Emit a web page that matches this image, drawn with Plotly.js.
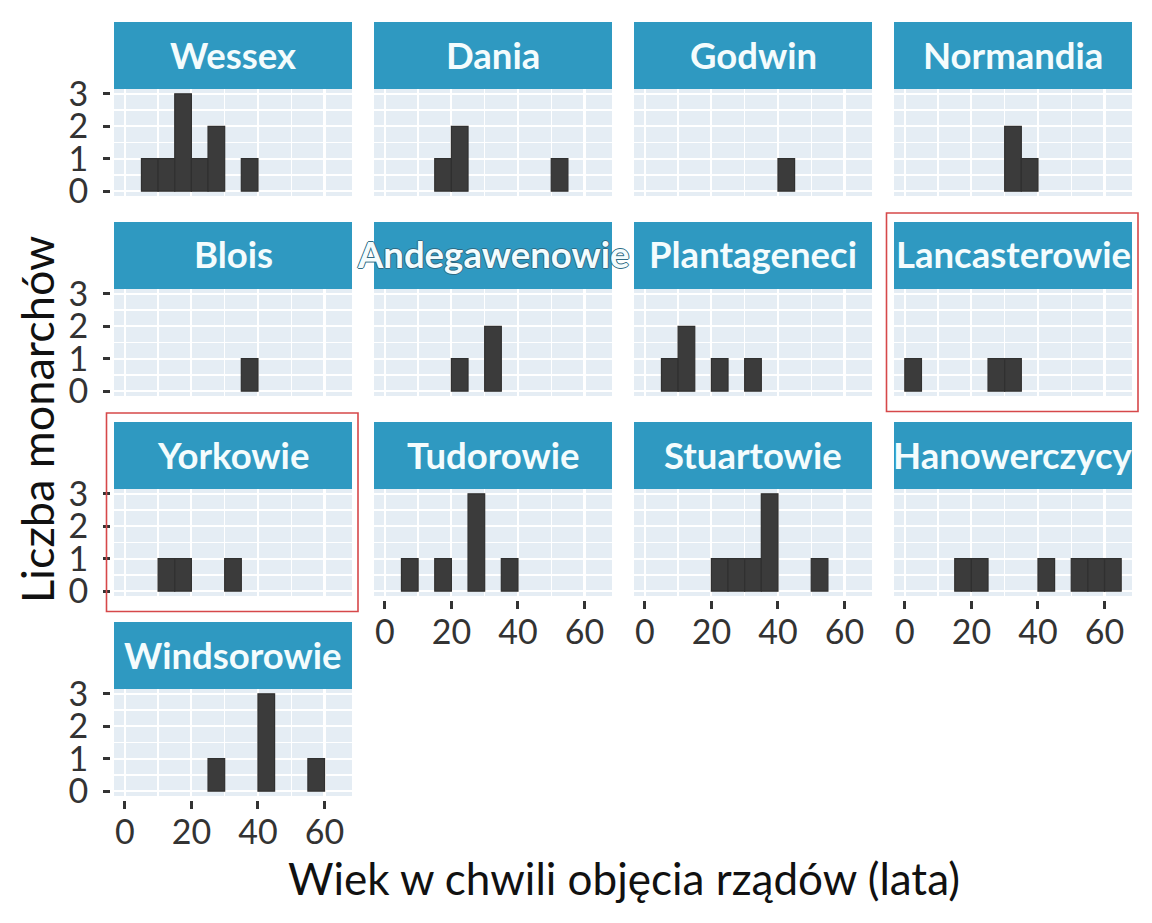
<!DOCTYPE html>
<html>
<head>
<meta charset="utf-8">
<script src="https://cdn.plot.ly/plotly-3.0.1.min.js"></script>
<style>html,body{margin:0;padding:0;background:#fff;}#chart{width:1152px;height:923px;}</style>
</head>
<body>
<div id="chart"></div>
<script>
// ---------- DATA ----------
const dynasties = ['Wessex','Dania','Godwin','Normandia','Blois','Andegawenowie','Plantageneci',
  'Lancasterowie','Yorkowie','Tudorowie','Stuartowie','Hanowerczycy','Windsorowie'];
const binStarts = [0,5,10,15,20,25,30,35,40,45,50,55,60];
const binWidth = 5;
const wessexCounts        = [0,1,1,3,1,2,0,1,0,0,0,0,0];
const daniaCounts         = [0,0,0,1,2,0,0,0,0,0,1,0,0];
const godwinCounts        = [0,0,0,0,0,0,0,0,1,0,0,0,0];
const normandiaCounts     = [0,0,0,0,0,0,2,1,0,0,0,0,0];
const bloisCounts         = [0,0,0,0,0,0,0,1,0,0,0,0,0];
const andegawenowieCounts = [0,0,0,0,1,0,2,0,0,0,0,0,0];
const plantageneciCounts  = [0,1,2,0,1,0,1,0,0,0,0,0,0];
const lancasterowieCounts = [1,0,0,0,0,1,1,0,0,0,0,0,0];
const yorkowieCounts      = [0,0,1,1,0,0,1,0,0,0,0,0,0];
const tudorowieCounts     = [0,1,0,1,0,3,0,1,0,0,0,0,0];
const stuartowieCounts    = [0,0,0,0,1,1,1,3,0,0,1,0,0];
const hanowerczycyCounts  = [0,0,0,1,1,0,0,0,1,0,1,1,1];
const windsorowieCounts   = [0,0,0,0,0,1,0,0,3,0,0,1,0];
const countsList = [wessexCounts,daniaCounts,godwinCounts,normandiaCounts,bloisCounts,
  andegawenowieCounts,plantageneciCounts,lancasterowieCounts,yorkowieCounts,tudorowieCounts,
  stuartowieCounts,hanowerczycyCounts,windsorowieCounts];
const xTickVals = [0,20,40,60];
const yTickVals = [0,1,2,3];
const highlighted = ['Lancasterowie','Yorkowie'];
const xTitle = 'Wiek w chwili objęcia rządów (lata)';
const yTitle = 'Liczba monarchów';

// ---------- LAYOUT GEOMETRY (pixels) ----------
const W = 1152, H = 923;
const nCols = 4;
const panelLeft0 = 114, colPitch = 260, panelW = 238;
const panelTop0 = 89, rowPitch = 200, panelH = 107, stripH = 67;
const px = v => v / W;
const py = v => 1 - v / H;
const xRange = [-3.25, 68.25];
const yRange = [-0.15, 3.15];
const teal = '#2F99C1';
const font = 'Lato, "Open Sans", sans-serif';
const tickFont = {family: font, size: 34, color: '#333'};

const traces = [];
const layout = {
  width: W, height: H,
  margin: {l:0, r:0, t:0, b:0},
  paper_bgcolor: '#ffffff',
  plot_bgcolor: '#E5EDF4',
  showlegend: false,
  bargap: 0,
  shapes: [],
  annotations: [],
  font: {family: font, color: '#222'}
};

const n = dynasties.length;
let extraId = n + 1;
dynasties.forEach((name, i) => {
  const r = Math.floor(i / nCols), c = i % nCols;
  const left = panelLeft0 + c * colPitch, right = left + panelW;
  const top = panelTop0 + r * rowPitch, bottom = top + panelH;
  const idx = i + 1;
  const sfx = idx === 1 ? '' : String(idx);
  const showX = (i + nCols >= n);
  const showY = (c === 0);

  const counts = countsList[i];
  const xs = [], ys = [];
  counts.forEach((v, k) => { if (v > 0) { xs.push(binStarts[k] + binWidth / 2); ys.push(v); } });
  traces.push({
    type: 'bar', x: xs, y: ys, width: binWidth,
    xaxis: 'x' + sfx, yaxis: 'y' + sfx,
    marker: {color: '#3B3B3B', line: {color: '#303030', width: 1.2}},
    hoverinfo: 'x+y'
  });

  const gridX = {showgrid: true, gridcolor: '#ffffff', gridwidth: 2.2,
    minor: {dtick: 10, tick0: 0, showgrid: true, gridcolor: '#ffffff', gridwidth: 1.5, ticks: ''}};
  const gridY = {showgrid: true, gridcolor: '#ffffff', gridwidth: 2.2,
    minor: {dtick: 0.5, tick0: 0, showgrid: true, gridcolor: '#ffffff', gridwidth: 1.5, ticks: ''}};

  layout['xaxis' + sfx] = Object.assign({
    domain: [px(left), px(right)],
    anchor: 'free', position: py(bottom + 4),
    range: xRange, fixedrange: true,
    tickvals: xTickVals, ticktext: xTickVals.map(String),
    showticklabels: false,
    ticks: showX ? 'outside' : '', ticklen: 8, tickwidth: 3, tickcolor: '#333',
    zeroline: false, showline: false
  }, gridX);
  if (showX) {
    // tick labels on an overlaying axis so they can sit at the reference distance from the tick marks
    const lid = extraId++;
    layout['xaxis' + lid] = {
      domain: [px(left), px(right)],
      overlaying: 'x' + sfx,
      anchor: 'free', position: py(bottom + 4),
      range: xRange, fixedrange: true,
      tickvals: xTickVals, ticktext: xTickVals.map(String),
      showticklabels: true, ticks: '', ticklabelstandoff: 9,
      tickfont: tickFont, showgrid: false, zeroline: false, showline: false
    };
    traces.push({type: 'scatter', mode: 'markers', x: [], y: [],
      xaxis: 'x' + lid, yaxis: 'y' + sfx, hoverinfo: 'skip', showlegend: false});
  }
  layout['yaxis' + sfx] = Object.assign({
    domain: [py(bottom), py(top)],
    anchor: 'free', position: px(left - 4),
    range: yRange, fixedrange: true,
    tickvals: yTickVals, ticktext: yTickVals.map(String),
    showticklabels: showY,
    ticks: showY ? 'outside' : '', ticklen: 7, tickwidth: 3, tickcolor: '#333',
    ticklabelstandoff: 8,
    tickfont: tickFont,
    zeroline: false, showline: false
  }, gridY);

  // strip
  layout.shapes.push({
    type: 'rect', xref: 'paper', yref: 'paper',
    x0: px(left), x1: px(right), y0: py(top), y1: py(top - stripH),
    fillcolor: teal, line: {width: 0}, layer: 'below'
  });
  const overflow = name.length > 12 && c === 1;
  layout.annotations.push({
    xref: 'paper', yref: 'paper',
    x: px((left + right) / 2), y: py(top - stripH / 2 - 1),
    xanchor: 'center', yanchor: 'middle', showarrow: false,
    text: name,
    font: {family: font, size: 36.5, color: '#F4FCFD', weight: 'bold',
      shadow: overflow ? '1px 0 0 #2f6b84, -1px 0 0 #2f6b84, 0 1px 0 #2f6b84, 0 -1px 0 #2f6b84' : 'none'}
  });

  if (highlighted.indexOf(name) >= 0) {
    layout.shapes.push({
      type: 'rect', xref: 'paper', yref: 'paper',
      x0: px(left - 7.5), x1: px(right + 6), y0: py(bottom + 15.5), y1: py(top - stripH - 9),
      fillcolor: 'rgba(0,0,0,0)', line: {color: '#D6484A', width: 1.6}, layer: 'above'
    });
  }
});

// overall axis titles
layout.annotations.push({
  xref: 'paper', yref: 'paper', x: px(624), y: py(878),
  xanchor: 'center', yanchor: 'middle', showarrow: false,
  text: xTitle, font: {family: font, size: 44, color: '#111'}
});
layout.annotations.push({
  xref: 'paper', yref: 'paper', x: px(37), y: py(420),
  xanchor: 'center', yanchor: 'middle', showarrow: false, textangle: -90,
  text: yTitle, font: {family: font, size: 45, color: '#111'}
});

Plotly.newPlot('chart', traces, layout, {displayModeBar: false, staticPlot: true});
</script>
</body>
</html>
